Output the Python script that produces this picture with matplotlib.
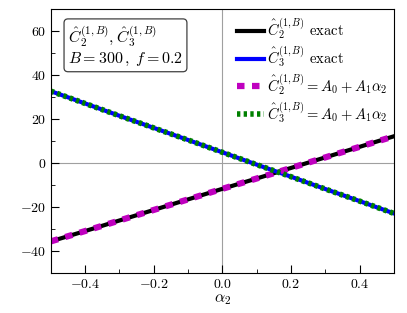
import matplotlib
matplotlib.use('Agg')
import matplotlib.pyplot as plt

plt.rcParams['font.family'] = 'serif'
plt.rcParams['font.serif'] = ['cmr10']
plt.rcParams['mathtext.fontset'] = 'cm'
plt.rcParams['axes.formatter.use_mathtext'] = True

# values
alpha = [-0.5, -0.4, -0.3, -0.2, -0.1, 0.0, 0.1, 0.2, 0.3, 0.4, 0.5]
c2_exact = [-35.5, -30.8, -26.0, -21.2, -16.4, -11.6, -6.9, -2.1, 2.7, 7.5, 12.3]
c3_exact = [32.8, 27.2, 21.6, 16.1, 10.6, 5.0, -0.6, -6.1, -11.7, -17.2, -22.8]
c2_fit = [-35.5, -30.8, -26.0, -21.2, -16.4, -11.6, -6.9, -2.1, 2.7, 7.5, 12.3]
c3_fit = [32.8, 27.2, 21.6, 16.1, 10.6, 5.0, -0.6, -6.1, -11.7, -17.2, -22.8]

fig = plt.figure(figsize=(4.07, 3.13), dpi=100)
ax = fig.add_axes([0.125, 0.127, 0.843, 0.843])

ax.axhline(0, color='#a0a0a0', lw=0.8, zorder=0)
ax.axvline(0, color='#a0a0a0', lw=0.8, zorder=0)

ax.plot(alpha, c2_exact, color='black', lw=3,
        label=r'$\hat{C}_2^{(1,B)}$ exact')
ax.plot(alpha, c3_exact, color='blue', lw=3,
        label=r'$\hat{C}_3^{(1,B)}$ exact')
ax.plot(alpha, c2_fit, color='m', lw=4.5, ls=(0, (1.2, 1.2)),
        label=r'$\hat{C}_2^{(1,B)} = A_0 + A_1\alpha_2$')
ax.plot(alpha, c3_fit, color='green', lw=4, ls=(0, (0.6, 0.6)),
        label=r'$\hat{C}_3^{(1,B)} = A_0 + A_1\alpha_2$')

ax.set_xlim(-0.5, 0.5)
ax.set_ylim(-50, 70)
ax.set_xticks([-0.4, -0.2, 0.0, 0.2, 0.4])
ax.set_xticks([-0.5, -0.3, -0.1, 0.1, 0.3, 0.5], minor=True)
ax.set_yticks([-40, -20, 0, 20, 40, 60])
ax.set_yticks([-50, -30, -10, 10, 30, 50, 70], minor=True)
ax.tick_params(which='both', direction='in', top=False, right=False, labelsize=10)
ax.tick_params(which='major', length=6)
ax.tick_params(which='minor', length=3)
ax.set_xlabel(r'$\alpha_2$', fontsize=11.5, labelpad=1)

ax.legend(loc='upper right', frameon=False, fontsize=10.5, handlelength=1.8,
          handletextpad=0.2, borderaxespad=0.1, labelspacing=0.22)

ax.text(0.05, 0.945, '$\\hat{C}_2^{(1,B)}, \\hat{C}_3^{(1,B)}$\n$B = 300\\,,\\; f = 0.2$',
        transform=ax.transAxes, ha='left', va='top', fontsize=11.5, linespacing=1.15,
        bbox=dict(boxstyle='round,pad=0.25', fc='white', ec='#404040', lw=0.9))

fig.savefig('out.png', dpi=100)
